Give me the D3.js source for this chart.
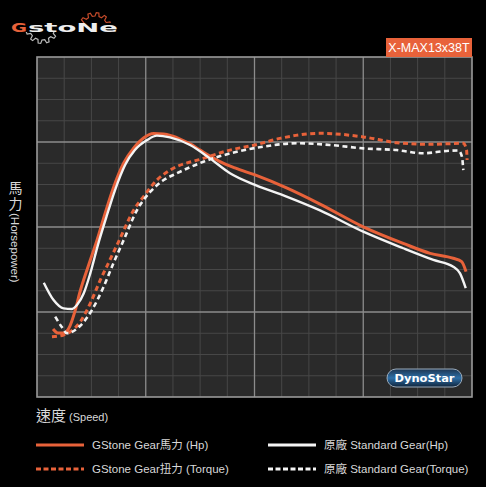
<!DOCTYPE html>
<html><head><meta charset="utf-8">
<script src="https://cdn.jsdelivr.net/npm/d3@7/dist/d3.min.js"></script>
<style>html,body{margin:0;padding:0;background:#000;}svg{display:block;}</style>
</head><body>
<svg id="c" width="486" height="487"></svg>
<script>
// Speed (x) and power (y) in grid units (16 minor divisions each axis)
const gstoneHpX = [0.59,0.77,0.99,1.21,1.40,1.58,1.90,2.21,2.51,2.82,3.19,3.56,3.92,4.29,4.66,4.97,5.26,5.63,6.00,6.36,6.73,7.28,8.02,9.18,10.41,12.00,13.47,14.46,15.31,15.62,15.78];
const gstoneHpY = [3.20,3.01,3.01,3.34,4.05,4.94,6.21,7.39,8.66,9.88,11.01,11.72,12.19,12.40,12.38,12.28,12.14,11.91,11.62,11.34,11.08,10.78,10.45,9.84,9.08,8.01,7.23,6.76,6.53,6.37,5.90];
const stdHpX = [0.25,0.61,0.98,1.29,1.47,1.72,1.96,2.24,2.54,2.87,3.24,3.60,4.05,4.41,4.89,5.63,6.36,7.10,8.02,9.18,10.41,12.00,13.47,14.58,15.31,15.56,15.77];
const stdHpY = [5.38,4.56,4.17,4.14,4.33,4.88,5.82,7.15,8.42,9.74,10.92,11.62,12.09,12.30,12.22,11.86,11.23,10.53,9.98,9.43,8.78,7.78,7.00,6.45,6.13,5.82,5.12];
const gstoneTqX = [0.55,0.98,1.22,1.59,1.96,2.33,2.69,3.03,3.56,3.92,4.41,4.90,6.12,7.10,8.02,8.94,10.41,12.00,13.23,14.46,15.68,15.80,15.82];
const gstoneTqY = [2.84,2.92,3.07,3.54,4.41,5.51,6.47,7.39,8.80,9.43,10.21,10.68,11.23,11.62,11.86,12.17,12.41,12.24,11.97,11.89,11.94,11.62,11.15];
const stdTqX = [0.67,0.92,1.10,1.58,2.02,2.43,2.80,3.19,3.68,4.17,4.66,5.15,6.12,7.35,8.32,9.55,10.78,12.00,13.23,14.21,15.07,15.50,15.63,15.68];
const stdTqY = [3.78,3.28,3.00,3.34,4.09,5.13,6.26,7.39,8.80,9.66,10.21,10.53,11.07,11.54,11.78,11.94,11.86,11.70,11.62,11.47,11.58,11.60,11.31,10.68];

const gridTicks = d3.range(0,17);
const legendLabels = ["GStone Gear馬力 (Hp)","GStone Gear扭力 (Torque)","原廠 Standard Gear(Hp)","原廠 Standard Gear(Torque)"];
const badgeLabel = "X-MAX13x38T";
const xLabelCJK = "速度", xLabelLatin = "(Speed)";
const yLabelCJK = ["馬","力"], yLabelLatin = "(Horsepower)";

const ORANGE = "#e8623a";
const FONT = "'Liberation Sans','Noto Sans CJK TC',sans-serif";
const svg = d3.select("#c");
svg.append("rect").attr("width",486).attr("height",487).attr("fill","#000");

const L=37,R=472,T=57,B=397;
const x = d3.scaleLinear().domain([0,16]).range([L,R]);
const y = d3.scaleLinear().domain([0,16]).range([B,T]);

svg.append("rect").attr("x",L).attr("y",T).attr("width",R-L).attr("height",B-T).attr("fill","#2a2a2a");
const g = svg.append("g");
g.selectAll(".vx").data(gridTicks.filter(d=>d%4)).join("line")
 .attr("x1",d=>x(d)).attr("x2",d=>x(d)).attr("y1",T).attr("y2",B).attr("stroke","#474747").attr("stroke-width",1);
g.selectAll(".hy").data(gridTicks.filter(d=>d%4)).join("line")
 .attr("y1",d=>y(d)).attr("y2",d=>y(d)).attr("x1",L).attr("x2",R).attr("stroke","#474747").attr("stroke-width",1);
g.selectAll(".mx").data(gridTicks.filter(d=>d%4===0&&d>0&&d<16)).join("line")
 .attr("x1",d=>x(d)).attr("x2",d=>x(d)).attr("y1",T).attr("y2",B).attr("stroke","#8c8c8c").attr("stroke-width",1.3);
g.selectAll(".my").data(gridTicks.filter(d=>d%4===0&&d>0&&d<16)).join("line")
 .attr("y1",d=>y(d)).attr("y2",d=>y(d)).attr("x1",L).attr("x2",R).attr("stroke","#8c8c8c").attr("stroke-width",1.3);
svg.append("rect").attr("x",L).attr("y",T).attr("width",R-L).attr("height",B-T).attr("fill","none").attr("stroke","#9a9a9a").attr("stroke-width",1.6);

const line = d3.line().x(d=>x(d[0])).y(d=>y(d[1])).curve(d3.curveMonotoneX);
const zip = (a,b)=>a.map((v,i)=>[v,b[i]]);
const series = [
 {pts:zip(stdTqX,stdTqY), color:"#f2f2f2", dash:"5,3.5", w:2.6},
 {pts:zip(gstoneTqX,gstoneTqY), color:ORANGE, dash:"5,3.5", w:3},
 {pts:zip(stdHpX,stdHpY), color:"#f4f4f4", dash:null, w:2.4},
 {pts:zip(gstoneHpX,gstoneHpY), color:ORANGE, dash:null, w:3},
];
const order=[1,3,0,2];
order.forEach(i=>{const s=series[i];
 svg.append("path").attr("d",line(s.pts)).attr("fill","none").attr("stroke",s.color)
  .attr("stroke-width",s.w).attr("stroke-dasharray",s.dash).attr("stroke-linecap","butt").attr("stroke-linejoin","round");
});

// badge
svg.append("rect").attr("x",386).attr("y",38).attr("width",R-386).attr("height",19).attr("fill",ORANGE);
svg.append("text").attr("x",(386+R)/2).attr("y",52).attr("text-anchor","middle").attr("fill","#fff")
 .attr("font-family",FONT).attr("font-size",12.5).text(badgeLabel);

// Logo
const logo = svg.append("g");
function gearPath(cx,cy,r1,r2,n){
  const pts=[];
  for(let i=0;i<n;i++){
    const a0=i*2*Math.PI/n, step=2*Math.PI/n;
    pts.push([a0,r1],[a0+step*0.15,r2],[a0+step*0.45,r2],[a0+step*0.6,r1]);
  }
  return pts.map(p=>[cx+Math.cos(p[0])*p[1],cy+Math.sin(p[0])*p[1]]);
}
svg.append("clipPath").attr("id","ct").append("rect").attr("x",70).attr("y",5).attr("width",60).attr("height",18);
svg.append("clipPath").attr("id","cb").append("rect").attr("x",10).attr("y",32).attr("width",60).attr("height",18);
logo.append("path").attr("d",d3.line()(gearPath(95,29,13,16.5,12))+"Z").attr("fill","none").attr("stroke","#c44a2a").attr("stroke-width",1.2).attr("clip-path","url(#ct)");
logo.append("path").attr("d",d3.line()(gearPath(42,27,13,16.5,12))+"Z").attr("fill","none").attr("stroke","#bbb").attr("stroke-width",1.2).attr("clip-path","url(#cb)");
logo.append("text").attr("x",11).attr("y",32).attr("font-family","'DejaVu Sans',sans-serif").attr("font-weight","bold")
 .attr("font-size",13).attr("fill",ORANGE).attr("textLength",16).attr("lengthAdjust","spacingAndGlyphs").text("G");
logo.append("text").attr("x",28).attr("y",32).attr("font-family","'DejaVu Sans',sans-serif").attr("font-weight","bold")
 .attr("font-size",12).attr("fill","#eee").attr("textLength",90).attr("lengthAdjust","spacingAndGlyphs").text("stoNe");

// Y label
const yl = svg.append("g").attr("fill","#d8d8d8").attr("font-family",FONT);
yl.append("text").attr("x",15.5).attr("y",193).attr("text-anchor","middle").attr("font-size",14).text(yLabelCJK[0]);
yl.append("text").attr("x",15.5).attr("y",209).attr("text-anchor","middle").attr("font-size",14).text(yLabelCJK[1]);
yl.append("text").attr("transform","translate(11,213) rotate(90)").attr("font-size",11.5).text(yLabelLatin);

// X label
const xl = svg.append("text").attr("x",36).attr("y",421).attr("fill","#d8d8d8").attr("font-family",FONT);
xl.append("tspan").attr("font-size",15).text(xLabelCJK);
xl.append("tspan").attr("font-size",11).attr("dx",3).text(xLabelLatin);

// Legend
const legend = [
 {x:36,y:445,color:ORANGE,dash:null,label:legendLabels[0]},
 {x:36,y:469,color:ORANGE,dash:"5,2.5",label:legendLabels[1]},
 {x:268,y:445,color:"#f4f4f4",dash:null,label:legendLabels[2]},
 {x:268,y:469,color:"#f4f4f4",dash:"5,2.5",label:legendLabels[3]},
];
const lg = svg.append("g");
legend.forEach(d=>{
  lg.append("line").attr("x1",d.x).attr("x2",d.x+48).attr("y1",d.y).attr("y2",d.y).attr("stroke",d.color).attr("stroke-width",2.8).attr("stroke-dasharray",d.dash);
  lg.append("text").attr("x",d.x+56).attr("y",d.y+4).attr("fill","#d8d8d8").attr("font-family",FONT).attr("font-size",11.5).text(d.label);
});

// Dynostar badge
const db = svg.append("g");
const grad = svg.append("defs").append("linearGradient").attr("id","dg").attr("x1",0).attr("x2",0).attr("y1",0).attr("y2",1);
grad.append("stop").attr("offset",0).attr("stop-color","#1d3550");
grad.append("stop").attr("offset",0.5).attr("stop-color","#2d6fa8");
grad.append("stop").attr("offset",1).attr("stop-color","#10243a");
db.append("rect").attr("x",387).attr("y",369).attr("width",75).attr("height",18).attr("rx",9).attr("fill","url(#dg)").attr("stroke","#9ab").attr("stroke-width",1);
db.append("text").attr("x",424.5).attr("y",382).attr("text-anchor","middle").attr("fill","#fff").attr("font-family","'DejaVu Sans',sans-serif")
 .attr("font-weight","bold").attr("font-size",10).attr("textLength",60).attr("lengthAdjust","spacingAndGlyphs").text("DynoStar");
</script>
</body></html>
